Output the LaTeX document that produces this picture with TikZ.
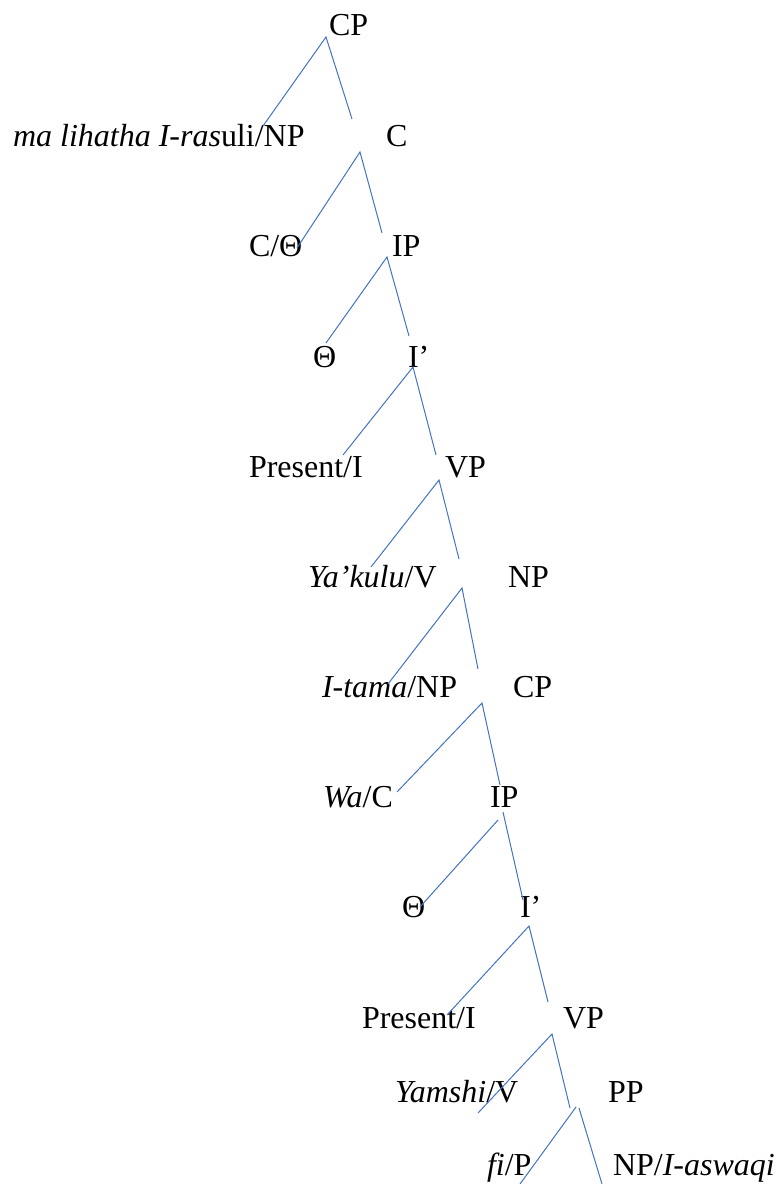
\documentclass[tikz,border=0pt]{standalone}
\usepackage{fontspec}
\setmainfont{Liberation Serif}
\begin{document}
\begin{tikzpicture}[x=1pt,y=-1pt,
  lbl/.style={anchor=base west,inner sep=0pt,outer sep=0pt,font=\fontsize{32}{38}\selectfont},
  branch/.style={draw={rgb,255:red,68;green,114;blue,196},line width=1pt}]
\useasboundingbox (0,0) rectangle (779,1184);
% labels
\node[lbl] (cp1) at (329,35) {CP};
\node[lbl] (np0) at (13,146) {\textit{ma lihatha I-ras}uli/NP};
\node[lbl] (c1) at (386,146) {C};
\node[lbl] (cth) at (249,256) {C/Θ};
\node[lbl] (ip1) at (392,256) {IP};
\node[lbl] (th1) at (313,367) {Θ};
\node[lbl] (ib1) at (408,367) {I’};
\node[lbl] (pr1) at (249,477) {Present/I};
\node[lbl] (vp1) at (445,477) {VP};
\node[lbl] (yak) at (308,587) {\textit{Ya’kulu}/V};
\node[lbl] (np1) at (508,587) {NP};
\node[lbl] (ita) at (322,697) {\textit{I-tama}/NP};
\node[lbl] (cp2) at (513,697) {CP};
\node[lbl] (wac) at (323,807) {\textit{Wa}/C};
\node[lbl] (ip2) at (490,807) {IP};
\node[lbl] (th2) at (402,917) {Θ};
\node[lbl] (ib2) at (520,917) {I’};
\node[lbl] (pr2) at (362,1028) {Present/I};
\node[lbl] (vp2) at (563,1028) {VP};
\node[lbl] (yam) at (395,1102) {\textit{Yamshi}/V};
\node[lbl] (pp) at (608,1102) {PP};
\node[lbl] (fip) at (487,1175) {\textit{fi}/P};
\node[lbl] (npa) at (613,1175) {NP/\textit{I-aswaqi}};
% branch points
\coordinate (vCP1) at (326,37);
\coordinate (lCP1) at (263,126);
\coordinate (rCP1) at (352,119);
\coordinate (vC1) at (360,152);
\coordinate (lC1) at (297,248);
\coordinate (rC1) at (382,233);
\coordinate (vIP1) at (387,257);
\coordinate (lIP1) at (326,343);
\coordinate (rIP1) at (409,336);
\coordinate (vI1) at (413,367);
\coordinate (lI1) at (343,455);
\coordinate (rI1) at (436,455);
\coordinate (vVP1) at (439,480);
\coordinate (lVP1) at (371,567);
\coordinate (rVP1) at (459,559);
\coordinate (vNP1) at (462,588);
\coordinate (lNP1) at (388,684);
\coordinate (rNP1) at (478,669);
\coordinate (vCP2) at (482,703);
\coordinate (lCP2) at (397,792);
\coordinate (rCP2) at (500,785);
\coordinate (vIP2l) at (498,820);
\coordinate (vIP2r) at (503,812);
\coordinate (lIP2) at (420,907);
\coordinate (rIP2) at (523,900);
\coordinate (vI2) at (529,926);
\coordinate (lI2) at (447,1015);
\coordinate (rI2) at (548,1002);
\coordinate (vVP2) at (552,1034);
\coordinate (lVP2) at (478,1113);
\coordinate (rVP2) at (570,1108);
\coordinate (vPPl) at (576,1107);
\coordinate (vPPr) at (579,1108);
\coordinate (lPP) at (520,1184);
\coordinate (rPP) at (602,1184);
% branches
\draw[branch] (lCP1) -- (vCP1) -- (rCP1);
\draw[branch] (lC1) -- (vC1) -- (rC1);
\draw[branch] (lIP1) -- (vIP1) -- (rIP1);
\draw[branch] (lI1) -- (vI1) -- (rI1);
\draw[branch] (lVP1) -- (vVP1) -- (rVP1);
\draw[branch] (lNP1) -- (vNP1) -- (rNP1);
\draw[branch] (lCP2) -- (vCP2) -- (rCP2);
\draw[branch] (lIP2) -- (vIP2l);
\draw[branch] (vIP2r) -- (rIP2);
\draw[branch] (lI2) -- (vI2) -- (rI2);
\draw[branch] (lVP2) -- (vVP2) -- (rVP2);
\draw[branch] (lPP) -- (vPPl);
\draw[branch] (vPPr) -- (rPP);
\end{tikzpicture}
\end{document}
